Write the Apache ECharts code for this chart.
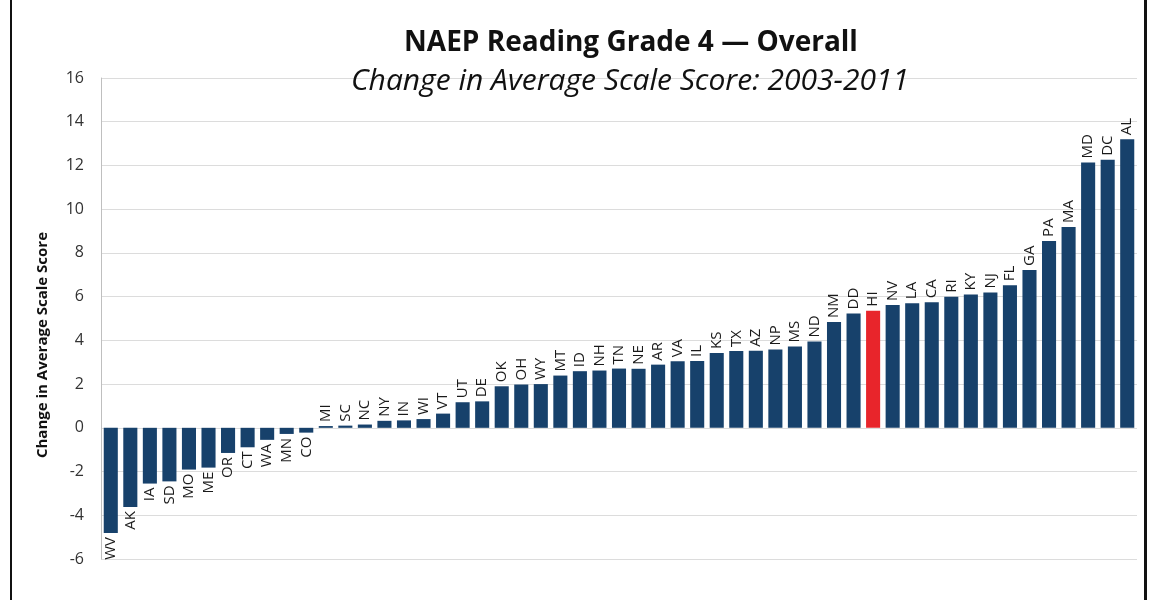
<!DOCTYPE html>
<html>
<head>
<meta charset="utf-8">
<script src="https://cdn.jsdelivr.net/npm/echarts@6/dist/echarts.min.js"></script>
<style>
html,body{margin:0;padding:0;background:#fff;}
#chart{width:1151px;height:600px;}
</style>
</head>
<body>
<div id="chart"></div>
<script>
const states = ['WV','AK','IA','SD','MO','ME','OR','CT','WA','MN','CO','MI','SC','NC','NY','IN','WI','VT','UT','DE','OK','OH','WY','MT','ID','NH','TN','NE','AR','VA','IL','KS','TX','AZ','NP','MS','ND','NM','DD','HI','NV','LA','CA','RI','KY','NJ','FL','GA','PA','MA','MD','DC','AL'];
const changes = [-4.81,-3.62,-2.55,-2.45,-1.91,-1.82,-1.15,-0.89,-0.55,-0.28,-0.22,0.08,0.1,0.15,0.32,0.34,0.40,0.65,1.17,1.21,1.90,1.98,2.0,2.39,2.59,2.62,2.71,2.70,2.89,3.04,3.06,3.42,3.51,3.53,3.58,3.72,3.95,4.84,5.23,5.36,5.62,5.70,5.74,5.99,6.10,6.19,6.52,7.22,8.55,9.19,12.14,12.26,13.20];
const highlight = 'HI';
const yTicks = [-6,-4,-2,0,2,4,6,8,10,12,14,16];

const navy = '#17416b';
const red = '#e8252b';
const font = '"Open Sans", "Noto Sans", sans-serif';

const chart = echarts.init(document.getElementById('chart'));
const data = changes.map((v, i) => ({
  value: v,
  itemStyle: { color: states[i] === highlight ? red : navy },
  label: v < 0
    ? { position: 'bottom', align: 'right' }
    : { position: 'top', align: 'left' }
}));

chart.setOption({
  backgroundColor: '#ffffff',
  animation: false,
  title: [
    { text: 'NAEP Reading Grade 4 \u2014 Overall', left: 626, top: 24, textAlign: 'center',
      textStyle: { fontFamily: font, fontWeight: 'bold', fontSize: 28, color: '#111' } },
    { text: 'Change in Average Scale Score: 2003-2011', left: 625, top: 61, textAlign: 'center',
      textStyle: { fontFamily: font, fontStyle: 'italic', fontWeight: 'normal', fontSize: 30, color: '#111' } }
  ],
  grid: { left: 101, right: 14, top: 78, bottom: 41 },
  xAxis: {
    type: 'category',
    data: states,
    axisLine: { show: false },
    axisTick: { show: false },
    axisLabel: { show: false }
  },
  yAxis: {
    type: 'value',
    min: yTicks[0], max: yTicks[yTicks.length - 1], interval: 2,
    axisLine: { show: true, lineStyle: { color: '#bfbfbf', width: 1 } },
    axisTick: { show: false },
    axisLabel: { fontFamily: font, fontSize: 16, color: '#333', margin: 17 },
    splitLine: { lineStyle: { color: '#dcdcdc', width: 1 } }
  },
  series: [{
    type: 'bar',
    data: data,
    barCategoryGap: '28%',
    label: {
      show: true,
      formatter: p => states[p.dataIndex],
      rotate: 90,
      verticalAlign: 'middle',
      distance: 4,
      fontFamily: font,
      fontSize: 15,
      color: '#1a1a1a'
    }
  }],
  graphic: [
    { type: 'text', left: 35, top: 232, rotation: Math.PI / 2,
      style: { text: 'Change in Average Scale Score', fontFamily: font, fontWeight: 'bold', fontSize: 15, fill: '#111' } },
    { type: 'rect', shape: { x: 10, y: 0, width: 2, height: 600 }, style: { fill: '#111' } },
    { type: 'rect', shape: { x: 1144, y: 0, width: 3, height: 600 }, style: { fill: '#111' } }
  ]
});
</script>
</body>
</html>
